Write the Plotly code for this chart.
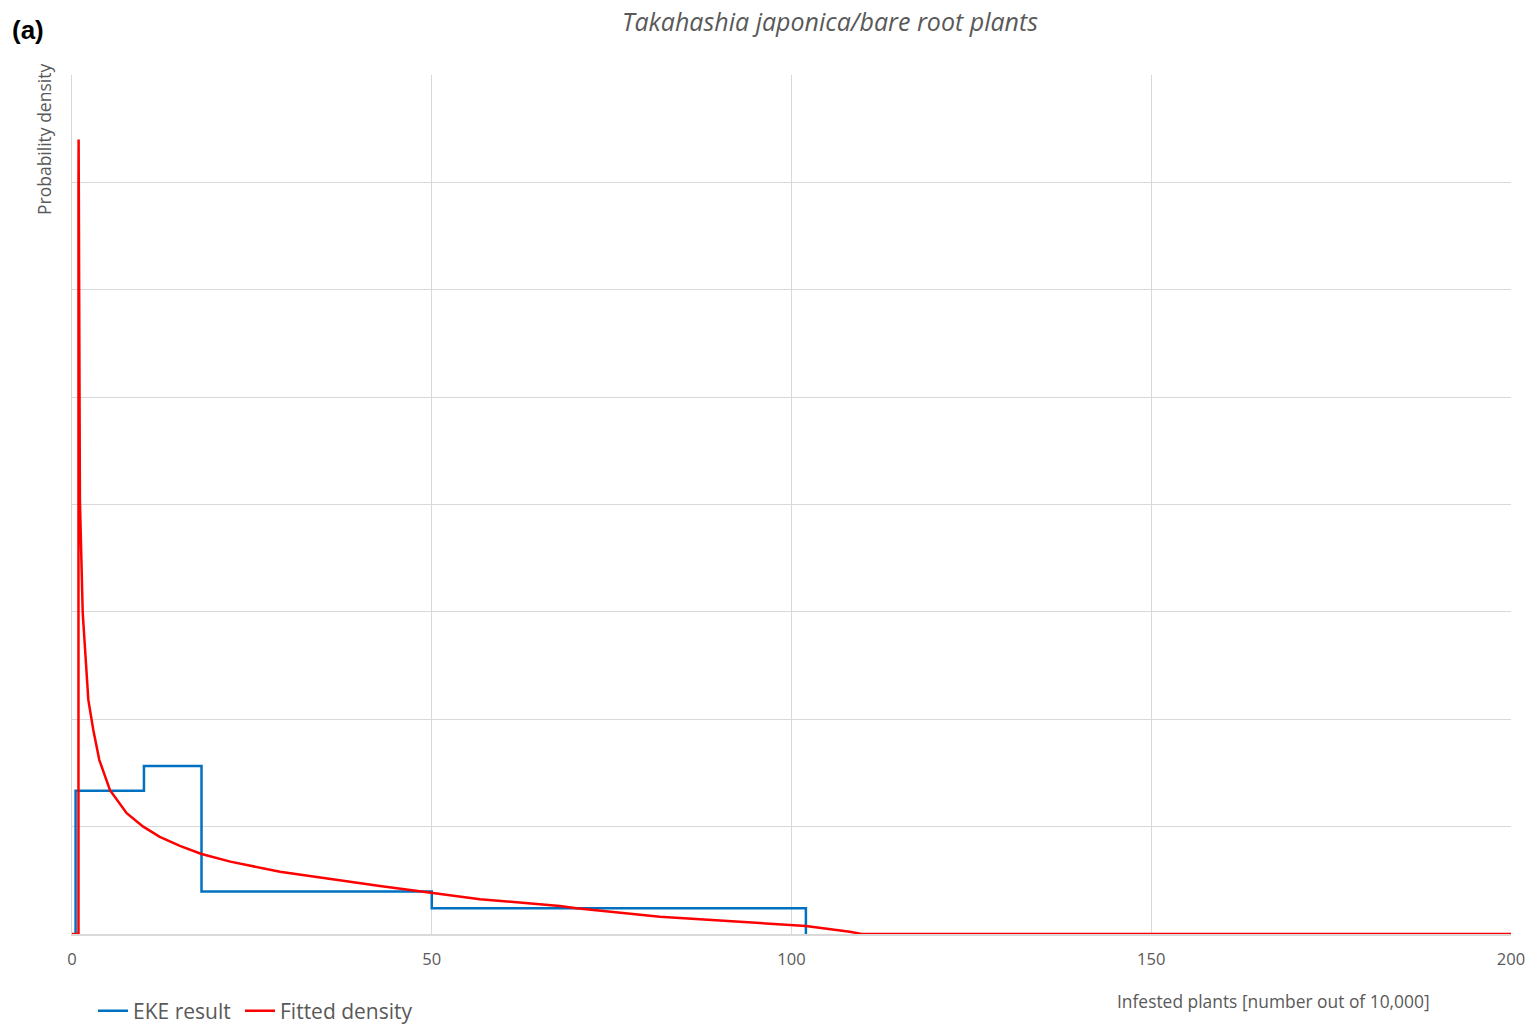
import plotly.graph_objects as go

# EKE result (step histogram): bin edges and densities
eke_x = [0.5, 0.5, 10, 18, 50, 102]
eke_y = [0, 0.0267, 0.0313, 0.0079, 0.0048, 0]

# Fitted density
fit_x = [0, 0.9, 0.9, 0.92, 1.0, 1.1, 1.49, 2.27, 2.96, 3.8, 5.28, 7.6, 9.9, 12.2,
         15.0, 18.0, 22.0, 28.9, 42.8, 49.9, 56.7, 67.8, 70.1, 81.7,
         102.0, 108.1, 109.75, 200]
fit_y = [0, 0, 0.14, 0.148, 0.118, 0.0809, 0.0598, 0.0436, 0.038, 0.0324, 0.0268,
         0.0225, 0.0200, 0.0181, 0.0164, 0.0149, 0.01348, 0.0116, 0.00894,
         0.0077, 0.00647, 0.00522, 0.0048, 0.00322, 0.00149, 0.00043, 0, 0]

x_ticks = [0, 50, 100, 150, 200]

W, H = 1529, 1032
L, R, T, B = 72, 18, 75, 98
pw, ph = W - L - R, H - T - B

def px(xp):
    return (xp - L) / pw

def py(yp):
    return (H - B - yp) / ph

gray = "#595959"
grid = "#d9d9d9"

fig = go.Figure()
fig.add_trace(go.Scatter(x=eke_x, y=eke_y, mode="lines", line_shape="hv",
                         name="EKE result", legend="legend",
                         line=dict(color="#0070C0", width=2.5)))
fig.add_trace(go.Scatter(x=fit_x, y=fit_y, mode="lines",
                         name="Fitted density", legend="legend2",
                         line=dict(color="#FF0000", width=2.5)))

leg_common = dict(orientation="h", xref="container", yref="container",
                  xanchor="left", yanchor="middle",
                  font=dict(size=21, color=gray), bgcolor="rgba(0,0,0,0)")

fig.update_layout(
    width=W, height=H, autosize=False,
    margin=dict(l=L, r=R, t=T, b=B, autoexpand=False),
    plot_bgcolor="white", paper_bgcolor="white",
    font=dict(family="Open Sans, sans-serif", color=gray),
    showlegend=True,
    legend=dict(x=93 / W, y=1 - 1011 / H, **leg_common),
    legend2=dict(x=240 / W, y=1 - 1011 / H, **leg_common),
    xaxis=dict(range=[0, 200], tickvals=x_ticks, ticktext=[str(v) for v in x_ticks],
               showgrid=True, gridcolor=grid, gridwidth=1, automargin=False,
               showline=True, linecolor=grid, linewidth=1.5, zeroline=False,
               ticks="", tickfont=dict(size=16.5, color=gray), ticklabelstandoff=9,
               ticklabeloverflow="allow"),
    yaxis=dict(range=[0, 0.16], dtick=0.02, showticklabels=False, automargin=False,
               showgrid=True, gridcolor=grid, gridwidth=1,
               showline=True, linecolor=grid, linewidth=1, zeroline=False, ticks=""),
    annotations=[
        dict(text="<i>Takahashia japonica/bare root plants</i>", xref="paper", yref="paper",
             x=px(830), y=py(21), xanchor="center", yanchor="middle", showarrow=False,
             font=dict(size=25, color=gray, family="Open Sans, sans-serif")),
        dict(text="<b>(a)</b>", xref="paper", yref="paper", x=px(10), y=py(30),
             xanchor="left", yanchor="middle", showarrow=False,
             font=dict(size=26, color="black", family="Liberation Sans, Arial, sans-serif")),
        dict(text="Probability density", xref="paper", yref="paper", x=px(44), y=py(140),
             xanchor="center", yanchor="middle", showarrow=False, textangle=-90,
             font=dict(size=17.5, color=gray)),
        dict(text="Infested plants [number out of 10,000]", xref="paper", yref="paper",
             x=px(1273), y=py(1001), xanchor="center", yanchor="middle", showarrow=False,
             font=dict(size=17.4, color=gray)),
    ],
)

fig.write_html(
    "out.html",
    config={"responsive": False, "displayModeBar": False},
    post_script="document.body.style.margin='0';document.body.style.overflow='hidden';",
)
